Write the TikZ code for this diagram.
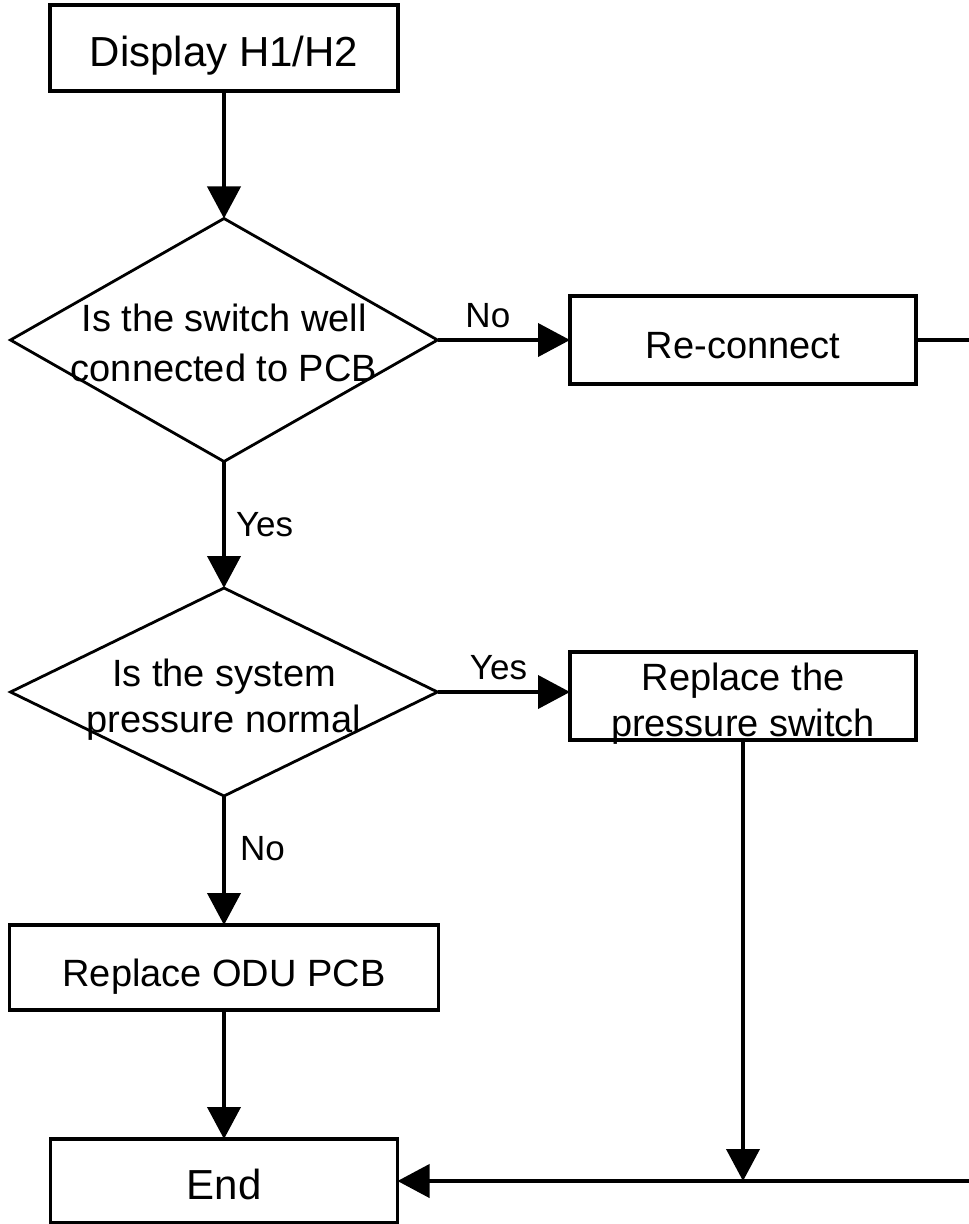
\documentclass[tikz,border=0pt]{standalone}
\usepackage{fontspec}
\setmainfont{Liberation Sans}
\usetikzlibrary{shapes.geometric,arrows.meta}
\newcommand{\twol}[4]{\smash{\makebox[0pt]{\raisebox{#3}{\fontsize{38}{#4}\selectfont\begin{tabular}[t]{@{}c@{}}#1\\#2\end{tabular}}}}}
\tikzset{
  frame/.style={draw, rectangle, line width=3.3pt, inner sep=0pt, outer sep=0pt},
  box/.style={frame, font=\fontsize{38}{46}\selectfont, text height=40pt, text depth=2.8pt},
  bigbox/.style={frame, font=\fontsize{42}{50}\selectfont, text height=40pt, text depth=2.6pt},
  dia/.style={draw, diamond, line width=2.8pt, inner sep=0pt, outer sep=0pt, minimum width=427pt, minimum height=243pt},
  conn/.style={line width=4pt, -{Triangle[length=32pt, width=33pt]}},
  plain/.style={line width=4pt},
  lbl/.style={inner sep=0pt, font=\fontsize{35}{42}\selectfont}
}
\begin{document}
\begin{tikzpicture}[x=1pt, y=-1pt]
\useasboundingbox (0,0) rectangle (969,1224);
\node[bigbox, minimum width=348pt, minimum height=86pt] (start) at (224,48) {Display H1/H2};
\node[dia] (d1) at (224,340) {\twol{Is the switch well}{connected to PCB}{9pt}{50}};
\node[box, minimum width=346pt, minimum height=88pt] (rc) at (743,340) {Re-connect};
\node[dia, minimum height=208pt] (d2) at (224,692) {\twol{Is the system}{pressure normal}{6pt}{46}};
\node[frame, minimum width=346pt, minimum height=88pt] (ps) at (743,696) {\twol{Replace the}{pressure switch}{6pt}{46}};
\node[box, minimum width=429pt, minimum height=85pt] (odu) at (224,967.5) {Replace ODU PCB};
\node[bigbox, minimum width=347pt, minimum height=84pt] (end) at (224,1181) {End};
\coordinate (rcout) at (969,340);
\coordinate (bin) at (969,1181);
\draw[conn] (start) -- (d1);
\draw[conn] (d1.east) -- node[lbl, pos=.38, above=10pt] {No} (rc.west);
\draw[plain] (rc.east) -- (rcout);
\draw[conn] (d1) -- node[lbl, pos=.5, right=10pt] {Yes} (d2);
\draw[conn] (d2.east) -- node[lbl, pos=.46, above=10.5pt] {Yes} (d2.east -| ps.west);
\draw[conn] (d2) -- node[lbl, pos=.41, right=14pt] {No} (odu);
\draw[conn] (odu) -- (end);
\draw[conn] (bin) -- (end.east);
\draw[conn] (ps.south) -- (ps.south |- end.east);
\end{tikzpicture}
\end{document}
